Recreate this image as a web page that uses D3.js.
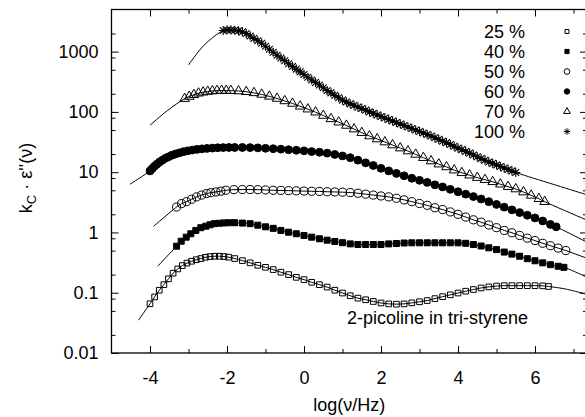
<!DOCTYPE html>
<html>
<head>
<meta charset="utf-8">
<script src="https://cdn.jsdelivr.net/npm/d3@7"></script>
<style>
body { margin: 0; background: #fff; }
text { font-family: "Liberation Sans", Arial, Helvetica, sans-serif; }
</style>
</head>
<body>
<div id="chart"></div>
<script>
// Width and height
var chartWidth  = 585;
var chartHeight = 417;

// data: [log(nu/Hz), kc*eps'']
var s25 = [[-4.00,0.0656],[-3.88,0.0851],[-3.76,0.110],[-3.64,0.136],[-3.52,0.170],[-3.40,0.211],[-3.28,0.248],[-3.16,0.282],[-3.04,0.310],[-2.92,0.333],[-2.80,0.353],[-2.68,0.369],[-2.56,0.387],[-2.44,0.398],[-2.32,0.403],[-2.20,0.403],[-2.08,0.398],[-1.96,0.389],[-1.80,0.369],[-1.60,0.341],[-1.40,0.313],[-1.20,0.285],[-1.00,0.264],[-0.80,0.242],[-0.60,0.219],[-0.40,0.200],[-0.20,0.180],[0.00,0.165],[0.20,0.149],[0.40,0.136],[0.60,0.124],[0.80,0.110],[1.00,0.0989],[1.20,0.0891],[1.40,0.0813],[1.60,0.0764],[1.80,0.0716],[2.00,0.0676],[2.20,0.0653],[2.40,0.0646],[2.60,0.0653],[2.80,0.0679],[3.00,0.0708],[3.20,0.0741],[3.40,0.0798],[3.60,0.0861],[3.80,0.0923],[4.00,0.0989],[4.20,0.106],[4.40,0.113],[4.60,0.120],[4.80,0.125],[5.00,0.129],[5.20,0.131],[5.40,0.131],[5.60,0.131],[5.80,0.131],[6.00,0.131],[6.20,0.130],[6.35,0.127]];
var s40 = [[-3.31,0.592],[-3.19,0.716],[-3.06,0.836],[-2.94,0.951],[-2.81,1.08],[-2.68,1.20],[-2.55,1.27],[-2.44,1.34],[-2.33,1.40],[-2.20,1.42],[-2.08,1.44],[-1.96,1.45],[-1.80,1.45],[-1.60,1.43],[-1.40,1.40],[-1.20,1.32],[-1.00,1.24],[-0.80,1.17],[-0.60,1.08],[-0.40,1.01],[-0.20,0.951],[0.00,0.891],[0.20,0.836],[0.40,0.785],[0.60,0.745],[0.80,0.708],[1.00,0.676],[1.20,0.646],[1.40,0.631],[1.60,0.631],[1.80,0.631],[2.00,0.631],[2.20,0.646],[2.40,0.656],[2.60,0.668],[2.80,0.673],[3.00,0.673],[3.20,0.673],[3.40,0.673],[3.60,0.673],[3.80,0.673],[4.00,0.673],[4.20,0.661],[4.40,0.631],[4.60,0.596],[4.80,0.556],[5.00,0.519],[5.20,0.473],[5.40,0.437],[5.60,0.403],[5.80,0.367],[6.00,0.339],[6.20,0.313],[6.40,0.292],[6.60,0.275],[6.75,0.264]];
var s50 = [[-3.31,2.64],[-3.18,3.01],[-3.05,3.24],[-2.92,3.55],[-2.79,3.89],[-2.66,4.17],[-2.53,4.42],[-2.42,4.57],[-2.29,4.70],[-2.16,4.84],[-2.03,5.01],[-1.82,5.13],[-1.60,5.15],[-1.40,5.15],[-1.20,5.13],[-1.00,5.07],[-0.80,5.01],[-0.60,4.98],[-0.40,4.94],[-0.20,4.90],[0.00,4.86],[0.20,4.82],[0.40,4.79],[0.60,4.74],[0.80,4.70],[1.00,4.66],[1.20,4.59],[1.40,4.47],[1.60,4.32],[1.80,4.17],[2.00,4.03],[2.20,3.89],[2.40,3.69],[2.60,3.47],[2.80,3.24],[3.00,3.02],[3.20,2.82],[3.40,2.57],[3.60,2.40],[3.80,2.19],[4.00,2.00],[4.20,1.80],[4.40,1.62],[4.60,1.48],[4.80,1.33],[5.00,1.20],[5.20,1.08],[5.40,0.989],[5.60,0.891],[5.80,0.804],[6.00,0.733],[6.20,0.661],[6.40,0.603],[6.60,0.550],[6.80,0.501]];
var s60 = [[-4.00,10.5],[-3.94,11.5],[-3.88,12.6],[-3.82,13.6],[-3.75,14.8],[-3.68,15.8],[-3.60,17.0],[-3.52,18.0],[-3.43,19.1],[-3.34,20.0],[-3.24,20.9],[-3.13,21.9],[-3.02,22.6],[-2.90,23.3],[-2.78,23.9],[-2.65,24.4],[-2.52,24.8],[-2.38,25.1],[-2.24,25.4],[-2.10,25.6],[-1.95,25.7],[-1.80,25.7],[-1.60,25.7],[-1.40,25.6],[-1.20,25.3],[-1.00,24.9],[-0.80,24.5],[-0.60,24.1],[-0.40,23.6],[-0.20,23.1],[0.00,22.6],[0.20,22.0],[0.40,21.4],[0.60,20.7],[0.80,19.7],[1.00,18.6],[1.20,17.4],[1.40,15.8],[1.60,14.3],[1.80,12.9],[2.00,11.6],[2.20,10.5],[2.40,9.55],[2.60,8.71],[2.80,7.94],[3.00,7.33],[3.20,6.76],[3.40,6.17],[3.60,5.69],[3.80,5.19],[4.00,4.73],[4.20,4.32],[4.40,3.94],[4.60,3.59],[4.80,3.24],[5.00,2.92],[5.20,2.63],[5.40,2.37],[5.60,2.14],[5.80,1.93],[6.00,1.74],[6.20,1.55],[6.40,1.36],[6.55,1.24]];
var s70 = [[-3.10,166],[-2.98,180],[-2.86,193],[-2.74,204],[-2.62,212],[-2.50,218],[-2.38,222],[-2.26,225],[-2.14,226],[-2.02,226],[-1.90,225],[-1.70,222],[-1.50,216],[-1.30,207],[-1.10,195],[-0.90,181],[-0.70,167],[-0.50,152],[-0.30,138],[-0.10,124],[0.10,111],[0.30,98.9],[0.50,87.1],[0.70,76.7],[0.90,67.6],[1.10,59.6],[1.30,51.9],[1.50,45.2],[1.70,39.8],[1.90,35.5],[2.10,31.6],[2.30,28.2],[2.50,25.1],[2.70,22.4],[2.90,19.7],[3.10,17.4],[3.30,15.3],[3.50,13.6],[3.70,12.2],[3.90,10.8],[4.10,9.77],[4.30,8.91],[4.50,8.13],[4.70,7.50],[4.90,6.92],[5.10,6.31],[5.30,5.75],[5.50,5.25],[5.70,4.68],[5.90,4.12],[6.10,3.63],[6.25,3.24]];
var s100 = [[-2.1,2240],[-2.0,2290],[-1.9,2290],[-1.8,2265],[-1.7,2215],[-1.6,2140],[-1.5,1995],[-1.4,1820],[-1.3,1660],[-1.2,1514],[-1.1,1380],[-1.0,1230],[-0.9,1096],[-0.8,977],[-0.7,871],[-0.6,785],[-0.5,708],[-0.4,631],[-0.3,569],[-0.2,513],[-0.1,462],[0.0,417],[0.1,376],[0.2,339],[0.3,309],[0.4,279],[0.5,251],[0.6,226],[0.7,207],[0.8,188],[0.9,172],[1.0,157],[1.1,146],[1.2,136],[1.3,129],[1.4,120],[1.5,114],[1.6,107],[1.7,100],[1.8,94.4],[1.9,89.1],[2.0,84.1],[2.1,79.4],[2.2,75.0],[2.3,70.8],[2.4,66.8],[2.5,63.1],[2.6,59.6],[2.7,56.2],[2.8,53.1],[2.9,50.1],[3.0,47.3],[3.1,44.7],[3.2,42.2],[3.3,39.8],[3.4,37.2],[3.5,35.1],[3.6,32.7],[3.7,30.9],[3.8,28.8],[3.9,26.9],[4.0,25.1],[4.1,23.7],[4.2,22.1],[4.3,20.7],[4.4,19.3],[4.5,18.0],[4.6,16.8],[4.7,15.8],[4.8,14.8],[4.9,14.0],[5.0,13.2],[5.1,12.4],[5.2,11.7],[5.3,11.1],[5.4,10.5],[5.5,9.89]];

// fit curves outside the measured range
var fitHead25 = [[-4.30,0.035]];
var fitTail25 = [[6.80,0.115],[7.50,0.088]];
var fitHead40 = [[-3.80,0.275]];
var fitTail40 = [[7.30,0.187],[7.50,0.162]];
var fitHead50 = [[-3.91,1.26]];
var fitTail50 = [[7.30,0.383],[7.50,0.347]];
var fitHead60 = [[-4.52,6.31]];
var fitTail60 = [[7.30,0.716],[7.50,0.617]];
var fitHead70 = [[-4.00,60],[-3.55,105]];
var fitTail70 = [[7.30,1.65],[7.50,1.45]];
var fitHead100 = [[-3.00,600],[-2.60,1270]];
var fitTail100 = [[7.30,4.30],[7.50,3.89]];

var legendNames = ['25 %','40 %','50 %','60 %','70 %','100 %'];
var xMajor = [-4,-2,0,2,4,6];
var xMinor = [-3,-1,1,3,5,7];
var yMajor = [0.01,0.1,1,10,100,1000];
var yMinor = [0.02,0.05,0.08,0.2,0.5,0.8,2,5,8,20,50,80,200,500,800,2000];

// plot box
var boxLeft = 111.5, boxRight = 587, boxTop = 9.5, boxBottom = 353;

var x = d3.scaleLinear().domain([-5, 7.35]).range([boxLeft, boxRight]);
var y = d3.scaleLog().domain([0.01, 5000]).range([boxBottom, boxTop]);

var svg = d3.select('#chart')
    .append('svg')
    .attr('width', chartWidth)
    .attr('height', chartHeight);

svg.append('clipPath').attr('id', 'plotclip')
    .append('rect')
    .attr('x', boxLeft).attr('y', boxTop)
    .attr('width', boxRight - boxLeft).attr('height', boxBottom - boxTop);

var series = [
    {data: s25,  head: fitHead25,  tail: fitTail25,  sym: 'osq'},
    {data: s40,  head: fitHead40,  tail: fitTail40,  sym: 'fsq'},
    {data: s50,  head: fitHead50,  tail: fitTail50,  sym: 'oci'},
    {data: s60,  head: fitHead60,  tail: fitTail60,  sym: 'fci'},
    {data: s70,  head: fitHead70,  tail: fitTail70,  sym: 'otr'},
    {data: s100, head: fitHead100, tail: fitTail100, sym: 'star'}
];

function symPath(kind, small){
    var k = small ? 0.7 : 1;
    if(kind === 'osq' || kind === 'fsq'){
        return d3.symbol(d3.symbolSquare, (kind === 'osq' ? 32 : 36) * k * k)();
    }
    if(kind === 'oci' || kind === 'fci'){
        return d3.symbol(d3.symbolCircle, (kind === 'oci' ? 52 : 48) * k * k)();
    }
    if(kind === 'otr'){
        return d3.symbol(d3.symbolTriangle, 40 * k * k)();
    }
    var r = 4.6 * k, q = 3.4 * k;
    return 'M0,' + (-r) + 'V' + r + 'M' + (-r) + ',0H' + r +
        'M' + (-q) + ',' + (-q) + 'L' + q + ',' + q +
        'M' + (-q) + ',' + q + 'L' + q + ',' + (-q);
}
function symFill(kind){
    return (kind === 'fsq' || kind === 'fci') ? '#000' : 'none';
}

var line = d3.line()
    .x(function(d){ return x(d[0]); })
    .y(function(d){ return y(d[1]); })
    .curve(d3.curveCatmullRom.alpha(0.5));

var plot = svg.append('g').attr('clip-path', 'url(#plotclip)');

// fit lines
series.forEach(function(s){
    plot.append('path')
        .attr('d', line(s.head.concat(s.data, s.tail)))
        .attr('fill', 'none')
        .attr('stroke', '#000')
        .attr('stroke-width', 1);
});

// data points
series.forEach(function(s){
    plot.append('g').selectAll('path')
        .data(s.data)
        .enter()
        .append('path')
        .attr('transform', function(d){
            return 'translate(' + x(d[0]) + ',' + y(d[1]) + ')';
        })
        .attr('d', symPath(s.sym, false))
        .attr('fill', symFill(s.sym))
        .attr('stroke', '#000')
        .attr('stroke-width', s.sym === 'star' ? 1.1 : 1);
});

// axes
function styleAxis(g){
    g.select('.domain').remove();
    g.selectAll('line').attr('stroke', '#000').attr('stroke-width', 1);
    g.attr('font-size', 18).attr('font-family', '"Liberation Sans", Arial, Helvetica, sans-serif');
    g.selectAll('text').attr('fill', '#000');
}
var fmt = function(d){ return String(d); };

svg.append('g').attr('transform', 'translate(0,' + boxBottom + ')')
    .call(d3.axisBottom(x).tickValues(xMajor).tickSize(-7).tickPadding(18).tickFormat(fmt))
    .call(styleAxis);
svg.append('g').attr('transform', 'translate(0,' + boxBottom + ')')
    .call(d3.axisBottom(x).tickValues(xMinor).tickSize(-4).tickFormat(''))
    .call(styleAxis);
svg.append('g').attr('transform', 'translate(0,' + boxTop + ')')
    .call(d3.axisTop(x).tickValues(xMajor).tickSize(-7).tickFormat(''))
    .call(styleAxis);
svg.append('g').attr('transform', 'translate(0,' + boxTop + ')')
    .call(d3.axisTop(x).tickValues(xMinor).tickSize(-4).tickFormat(''))
    .call(styleAxis);

svg.append('g').attr('transform', 'translate(' + boxLeft + ',0)')
    .call(d3.axisLeft(y).tickValues(yMajor).tickSize(-7).tickPadding(13).tickFormat(fmt))
    .call(styleAxis);
svg.append('g').attr('transform', 'translate(' + boxLeft + ',0)')
    .call(d3.axisLeft(y).tickValues(yMinor).tickSize(-4).tickFormat(''))
    .call(styleAxis);
svg.append('g').attr('transform', 'translate(' + boxRight + ',0)')
    .call(d3.axisRight(y).tickValues(yMajor).tickSize(-7).tickFormat(''))
    .call(styleAxis);
svg.append('g').attr('transform', 'translate(' + boxRight + ',0)')
    .call(d3.axisRight(y).tickValues(yMinor).tickSize(-4).tickFormat(''))
    .call(styleAxis);

// frame
svg.append('rect')
    .attr('x', boxLeft).attr('y', boxTop)
    .attr('width', boxRight - boxLeft).attr('height', boxBottom - boxTop)
    .attr('fill', 'none')
    .attr('stroke', '#000')
    .attr('stroke-width', 1.3);

// axis titles
svg.append('text')
    .attr('x', (boxLeft + boxRight) / 2)
    .attr('y', 411)
    .attr('text-anchor', 'middle')
    .attr('font-size', 18)
    .text('log(\u03bd/Hz)');

var yt = svg.append('text')
    .attr('transform', 'translate(32,178) rotate(-90)')
    .attr('text-anchor', 'middle')
    .attr('font-size', 18);
yt.append('tspan').text('k');
yt.append('tspan').attr('font-size', 13).attr('dy', 4).text('C');
yt.append('tspan').attr('dy', -4).text(' \u00b7 \u03b5\'\'(\u03bd)');

// annotation
svg.append('text')
    .attr('x', 347)
    .attr('y', 324)
    .attr('font-size', 18)
    .text('2-picoline in tri-styrene');

// legend
var legend = svg.append('g');
legendNames.forEach(function(name, i){
    var cy = 31.5 + i * 20;
    legend.append('text')
        .attr('x', 525)
        .attr('y', cy + 6.5)
        .attr('text-anchor', 'end')
        .attr('font-size', 18)
        .text(name);
    legend.append('path')
        .attr('transform', 'translate(567,' + cy + ')')
        .attr('d', symPath(series[i].sym, true))
        .attr('fill', symFill(series[i].sym))
        .attr('stroke', '#000')
        .attr('stroke-width', 1);
});
</script>
</body>
</html>
